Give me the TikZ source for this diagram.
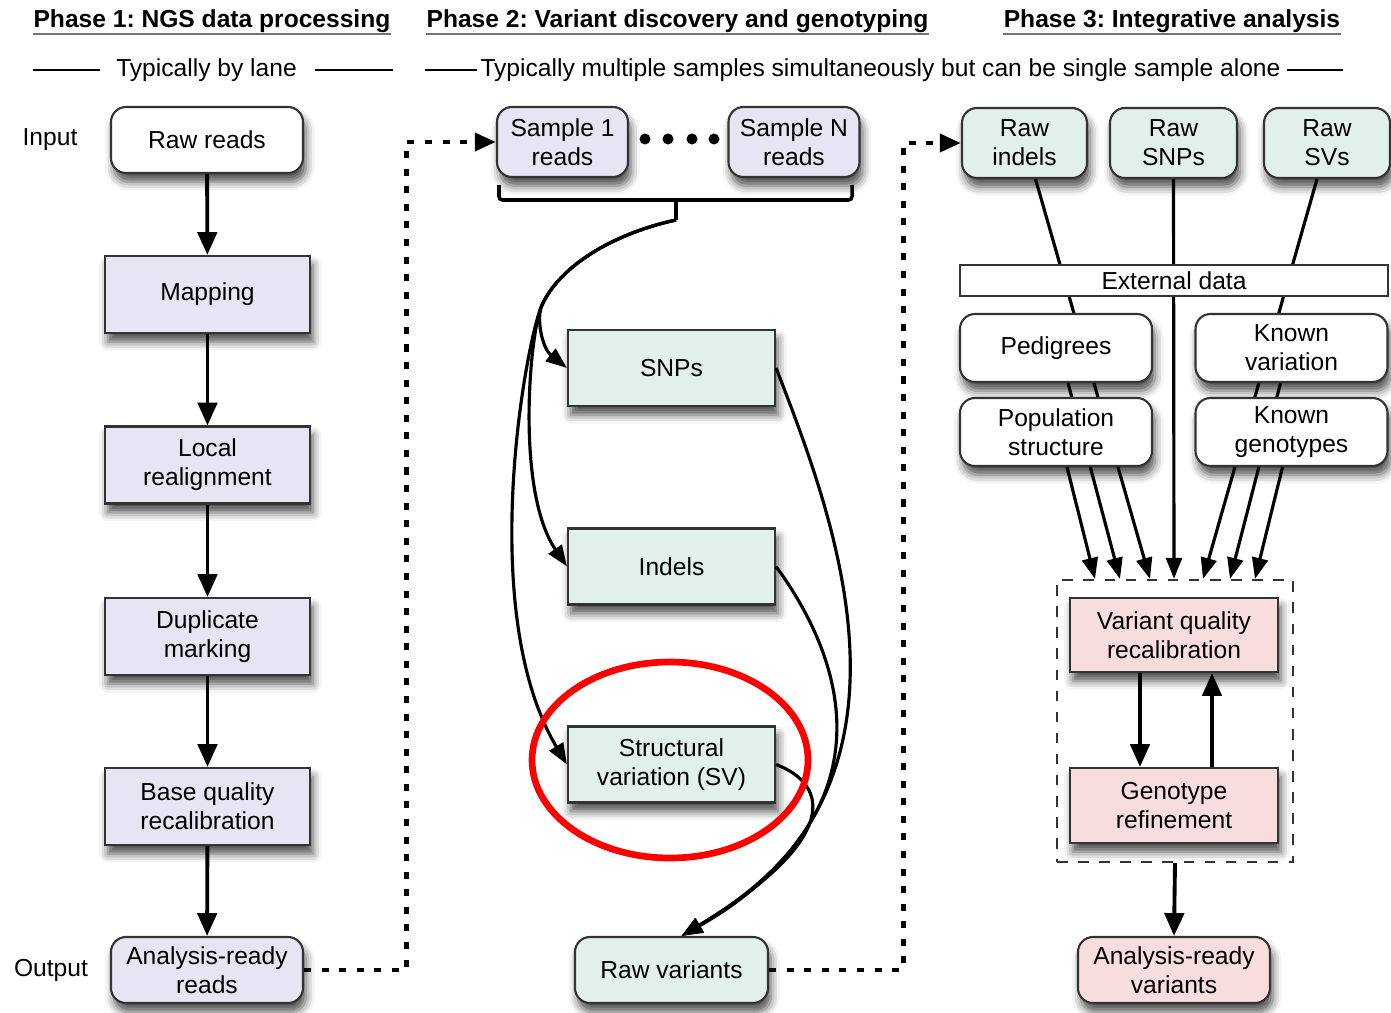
\documentclass[tikz,border=0pt]{standalone}
\usepackage{fontspec}
\setmainfont{Liberation Sans}
\usetikzlibrary{arrows.meta, shadows.blur, backgrounds}
\frenchspacing

\definecolor{readblue}{RGB}{229,229,244}
\definecolor{varmint}{RGB}{225,240,234}
\definecolor{refpink}{RGB}{247,221,221}

\begin{document}
\begin{tikzpicture}[font=\fontsize{7}{8.3}\selectfont,
  heading/.style={font=\fontsize{7}{8.3}\selectfont\bfseries, inner sep=0pt, anchor=base},
  box/.style={draw=black!80, line width=0.6pt, align=center, inner sep=1pt,
    blur shadow={shadow xshift=0.8pt, shadow yshift=-2.5pt, shadow blur radius=2.5pt, shadow opacity=70}},
  procbox/.style={box, minimum width=2.05cm, minimum height=0.77cm},
  roundbox/.style={box, rounded corners=0.15cm},
  flow/.style={line width=1.1pt, -{Triangle[length=6.5pt,width=5.5pt]}},
  link/.style={line width=0.9pt, -{Triangle[length=6pt,width=4.5pt]}},
  dotflow/.style={line width=1.4pt, dash pattern=on 2pt off 3pt, -{Triangle[length=6pt,width=5pt]}}]
\useasboundingbox (0,0) rectangle (13.91,-10.13);

% headings
\node[heading] (phaseone) at (2.12,-0.28) {Phase 1: NGS data processing};
\node[heading] (phasetwo) at (6.775,-0.28) {Phase 2: Variant discovery and genotyping};
\node[heading] (phasethree) at (11.72,-0.28) {Phase 3: Integrative analysis};
\foreach \h in {phaseone,phasetwo,phasethree}
	\draw[black!55, line width=0.5pt] ([yshift=-1.8pt]\h.base west) -- ([yshift=-1.8pt]\h.base east);

\node (bylane) at (2.065,-0.70) {Typically by lane};
\node (multisample) at (8.805,-0.70) {Typically multiple samples simultaneously but can be single sample alone};
\draw[line width=0.5pt] (0.33,-0.70) -- (1.00,-0.70);
\draw[line width=0.5pt] (3.15,-0.70) -- (3.93,-0.70);
\draw[line width=0.5pt] (4.25,-0.70) -- (4.77,-0.70);
\draw[line width=0.5pt] (12.87,-0.70) -- (13.43,-0.70);

% phase 1
\node (inputlbl) at (0.50,-1.40) {Input};
\node (outputlbl) at (0.51,-9.70) {Output};
\node[roundbox, fill=white, minimum width=1.92cm, minimum height=0.66cm] (rawreads) at (2.07,-1.40) {Raw reads};
\node[procbox, fill=readblue] (mapping) at (2.075,-2.945) {Mapping};
\node[procbox, fill=readblue] (realign) at (2.075,-4.65) {Local\\realignment};
\node[procbox, fill=readblue] (dupmark) at (2.075,-6.365) {Duplicate\\marking};
\node[procbox, fill=readblue] (bqsr) at (2.075,-8.065) {Base quality\\recalibration};
\node[roundbox, fill=readblue, minimum width=1.92cm, minimum height=0.66cm] (arreads) at (2.07,-9.70) {Analysis-ready\\reads};
\foreach \a/\b in {rawreads/mapping,mapping/realign,realign/dupmark,dupmark/bqsr,bqsr/arreads}
	\draw[flow] (\a) -- (\b);

% phase 2
\node[roundbox, fill=readblue, minimum width=1.31cm, minimum height=0.70cm] (sampleone) at (5.625,-1.42) {Sample 1\\reads};
\node[roundbox, fill=readblue, minimum width=1.31cm, minimum height=0.70cm] (samplen) at (7.94,-1.42) {Sample N\\reads};
\foreach \x in {6.45,6.68,6.92,7.14}
	\fill (\x,-1.39) circle (0.055);
\draw[line width=1pt, rounded corners=1pt] (4.99,-1.85) -- (4.99,-2.00) -- (8.52,-2.00) -- (8.52,-1.85);
\draw[line width=1.1pt] (6.76,-2.00) -- (6.76,-2.20) coordinate (split);
\coordinate (fork) at (5.42,-3.05);

\node[procbox, fill=varmint, minimum width=2.07cm, minimum height=0.76cm] (snps) at (6.715,-3.68) {SNPs};
\node[procbox, fill=varmint, minimum width=2.07cm, minimum height=0.76cm] (indels) at (6.715,-5.665) {Indels};
\node[procbox, fill=varmint, minimum width=2.07cm, minimum height=0.76cm] (sv) at (6.715,-7.645) {Structural\\variation (SV)};
\node[roundbox, fill=varmint, minimum width=1.93cm, minimum height=0.66cm] (rawvar) at (6.715,-9.70) {Raw variants};

\draw[link] (split) .. controls (6.20,-2.32) and (5.62,-2.62) .. (fork) .. controls (5.36,-3.18) and (5.42,-3.48) .. (snps.west);
\draw[link] (split) .. controls (6.20,-2.32) and (5.62,-2.62) .. (fork) .. controls (5.30,-3.30) and (5.15,-4.90) .. (indels.west);
\draw[link] (split) .. controls (6.20,-2.32) and (5.62,-2.62) .. (fork) .. controls (5.27,-3.37) and (4.75,-6.10) .. (sv.west);
\draw[link] (snps.east) .. controls (8.35,-5.20) and (9.40,-7.90) .. ([xshift=0.1cm]rawvar.north);
\draw[link] (indels.east) .. controls (8.30,-6.40) and (9.10,-8.00) .. ([xshift=0.1cm]rawvar.north);
\draw[link] (sv.east) .. controls (8.30,-7.85) and (8.40,-8.40) .. ([xshift=0.1cm]rawvar.north);

% phase 3
\node[roundbox, fill=varmint, minimum width=1.25cm, minimum height=0.70cm] (rawindels) at (10.245,-1.43) {Raw\\indels};
\node[roundbox, fill=varmint, minimum width=1.27cm, minimum height=0.70cm] (rawsnps) at (11.735,-1.43) {Raw\\SNPs};
\node[roundbox, fill=varmint, minimum width=1.26cm, minimum height=0.70cm] (rawsvs) at (13.27,-1.43) {Raw\\SVs};
\node[draw=black!80, line width=0.6pt, fill=white, minimum width=4.28cm, minimum height=0.31cm, inner sep=0pt] (extdata) at (11.74,-2.805) {External data};
\node[roundbox, fill=white, minimum width=1.92cm, minimum height=0.68cm] (pedigrees) at (10.56,-3.48) {Pedigrees};
\node[roundbox, fill=white, minimum width=1.92cm, minimum height=0.68cm] (knownvar) at (12.915,-3.48) {Known\\variation};
\node[roundbox, fill=white, minimum width=1.92cm, minimum height=0.68cm] (popstruct) at (10.56,-4.32) {Population\\structure};
\node[roundbox, fill=white, minimum width=1.92cm, minimum height=0.68cm] (knowngeno) at (12.915,-4.32) {Known\\genotypes};
\node[draw=black!80, line width=0.6pt, dashed, minimum width=2.36cm, minimum height=2.82cm] (refinebox) at (11.75,-7.21) {};
\node[procbox, fill=refpink, minimum width=2.08cm, minimum height=0.74cm] (vqr) at (11.74,-6.35) {Variant quality\\recalibration};
\node[procbox, fill=refpink, minimum width=2.08cm, minimum height=0.75cm] (genoref) at (11.74,-8.055) {Genotype\\refinement};
\node[roundbox, fill=refpink, minimum width=1.92cm, minimum height=0.66cm] (arvariants) at (11.74,-9.70) {Analysis-ready\\variants};

\draw[dotflow] (arreads.east) -- ++(1.02,0) |- (sampleone.west);
\draw[dotflow] (rawvar.east) -- ++(1.34,0) |- (rawindels.west);

\begin{scope}[on background layer]
\draw[link] ([xshift=0.11cm]rawindels.south) -- ([xshift=-0.25cm]refinebox.north);
\draw[link] ([xshift=0.12cm]pedigrees.south) -- ([xshift=-0.55cm]refinebox.north);
\draw[link] ([xshift=0.11cm]popstruct.south) -- ([xshift=-0.80cm]refinebox.north);
\draw[link] (rawsnps.south) -- ([xshift=-0.01cm]refinebox.north);
\draw[link] ([xshift=-0.10cm]rawsvs.south) -- ([xshift=0.28cm]refinebox.north);
\draw[link] ([xshift=-0.11cm]knownvar.south) -- ([xshift=0.55cm]refinebox.north);
\draw[link] ([xshift=-0.09cm]knowngeno.south) -- ([xshift=0.80cm]refinebox.north);
\end{scope}

\draw[flow] ([xshift=-0.34cm]vqr.south) -- ([xshift=-0.34cm]genoref.north);
\draw[flow] ([xshift=0.38cm]genoref.north) -- ([xshift=0.38cm]vqr.south);
\draw[flow] (refinebox.south) -- (arvariants.north);

% highlight
\draw[red, line width=1.9pt] (6.70,-7.60) ellipse [x radius=1.38, y radius=0.98];
\end{tikzpicture}
\end{document}
